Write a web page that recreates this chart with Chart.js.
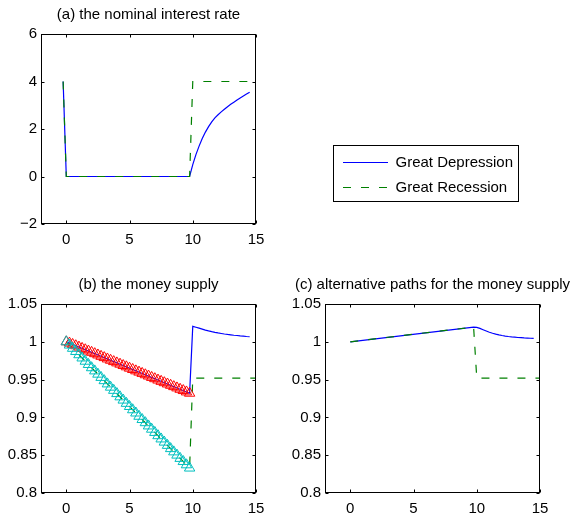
<!DOCTYPE html>
<html><head><meta charset="utf-8">
<script src="https://cdn.jsdelivr.net/npm/chart.js@4.4.0/dist/chart.umd.min.js"></script>
<style>
html,body{margin:0;padding:0;background:#fff;overflow:hidden;width:574px;height:521px;}
#wrap{position:relative;width:574px;height:521px;}
canvas{position:absolute;}
</style>
</head><body>
<div id="wrap">
<canvas id="ca" width="290" height="260" style="left:0;top:0;"></canvas>
<canvas id="cb" width="290" height="261" style="left:0;top:260px;"></canvas>
<canvas id="cc" width="290" height="261" style="left:284px;top:260px;"></canvas>
<canvas id="cl" width="230" height="160" style="left:320px;top:130px;"></canvas>
</div>
<script>
// ---------- data ----------
const titles = ['(a) the nominal interest rate', '(b) the money supply', '(c) alternative paths for the money supply'];
const legendLabels = ['Great Depression', 'Great Recession'];

const xTicks = [0, 5, 10, 15];
const xTickLabels = ['0', '5', '10', '15'];
const rateTicks = [-2, 0, 2, 4, 6];
const rateTickLabels = ['\u22122', '0', '2', '4', '6'];
const moneyTicks = [0.8, 0.85, 0.9, 0.95, 1, 1.05];
const moneyTickLabels = ['0.8', '0.85', '0.9', '0.95', '1', '1.05'];

// (a) nominal interest rate
const gdRateX = [-0.25, 0, 9.75, 10, 10.25, 10.5, 10.75, 11, 11.25, 11.5, 11.75, 12, 12.25, 12.5, 12.75, 13, 13.25, 13.5, 13.75, 14, 14.25, 14.5];
const gdRate  = [4, 0, 0, 0.5, 0.92, 1.28, 1.6, 1.87, 2.1, 2.3, 2.47, 2.6, 2.72, 2.83, 2.94, 3.04, 3.13, 3.22, 3.31, 3.39, 3.47, 3.55];
const grRateX = [-0.25, 0, 9.75, 10, 15];
const grRate  = [4, 0, 0, 4, 4];

// (b) money supply
const gdMoneyX = [0, 9.75, 10, 10.25, 10.5, 10.75, 11, 11.25, 11.5, 11.75, 12, 12.25, 12.5, 12.75, 13, 13.25, 13.5, 13.75, 14, 14.25, 14.5];
const gdMoney  = [1.0, 0.932, 1.0204, 1.0193, 1.018, 1.0167, 1.0155, 1.0144, 1.0134, 1.0125, 1.0117, 1.011, 1.0103, 1.0097, 1.0092, 1.0087, 1.0083, 1.0078, 1.0074, 1.007, 1.0067];
const grMoneyX = [0, 9.75, 10, 15];
const grMoney  = [1.0, 0.833, 0.952, 0.952];
const markerX = [0, 0.25, 0.5, 0.75, 1, 1.25, 1.5, 1.75, 2, 2.25, 2.5, 2.75, 3, 3.25, 3.5, 3.75, 4, 4.25, 4.5, 4.75, 5, 5.25, 5.5, 5.75, 6, 6.25, 6.5, 6.75, 7, 7.25, 7.5, 7.75, 8, 8.25, 8.5, 8.75, 9, 9.25, 9.5, 9.75];
const redMarkers = [1.0, 0.9983, 0.9965, 0.9948, 0.993, 0.9913, 0.9895, 0.9878, 0.9861, 0.9843, 0.9826, 0.9808, 0.9791, 0.9773, 0.9756, 0.9738, 0.9721, 0.9704, 0.9686, 0.9669, 0.9651, 0.9634, 0.9616, 0.9599, 0.9582, 0.9564, 0.9547, 0.9529, 0.9512, 0.9494, 0.9477, 0.9459, 0.9442, 0.9425, 0.9407, 0.939, 0.9372, 0.9355, 0.9337, 0.932];
const cyanMarkers = [1.0, 0.9957, 0.9914, 0.9872, 0.9829, 0.9786, 0.9743, 0.97, 0.9657, 0.9615, 0.9572, 0.9529, 0.9486, 0.9443, 0.94, 0.9358, 0.9315, 0.9272, 0.9229, 0.9186, 0.9144, 0.9101, 0.9058, 0.9015, 0.8972, 0.893, 0.8887, 0.8844, 0.8801, 0.8758, 0.8715, 0.8673, 0.863, 0.8587, 0.8544, 0.8501, 0.8458, 0.8416, 0.8373, 0.833];

// (c) alternative money paths
const gdAltX = [0, 9.75, 10, 10.25, 10.5, 10.75, 11, 11.25, 11.5, 11.75, 12, 12.25, 12.5, 12.75, 13, 13.25, 13.5, 13.75, 14, 14.25, 14.5];
const gdAlt  = [1.0, 1.0195, 1.019, 1.0177, 1.016, 1.0143, 1.0127, 1.0113, 1.0101, 1.0091, 1.0083, 1.0076, 1.007, 1.0065, 1.0061, 1.0057, 1.0054, 1.0051, 1.0049, 1.0047, 1.0045];
const grAltX = [0, 9.75, 10, 15];
const grAlt  = [1.0, 1.0195, 0.952, 0.952];

// ---------- styles ----------
const BLUE = '#0000ff', GREEN = '#008000', RED = '#ff0000', CYAN = '#00bfbf';
const DASH = [8, 10];
const LINE_W = 1.2;
Chart.defaults.font.family = '"Liberation Sans", Arial, Helvetica, sans-serif';
Chart.defaults.font.size = 15;
Chart.defaults.color = '#000';

const pts = (xs, ys) => xs.map((x, i) => ({x: x, y: ys[i]}));

const frame = {
  id: 'frame',
  afterDatasetsDraw(chart) {
    const {ctx, chartArea: a, scales} = chart;
    const L = Math.round(a.left) + 0.5, R = Math.round(a.right) - 0.5;
    const T = Math.round(a.top) + 0.5, B = Math.round(a.bottom) - 0.5;
    const tl = 3;
    ctx.save();
    ctx.strokeStyle = '#000'; ctx.lineWidth = 1; ctx.setLineDash([]);
    ctx.strokeRect(L, T, R - L, B - T);
    ctx.beginPath();
    scales.x.ticks.forEach(t => {
      const px = Math.round(scales.x.getPixelForValue(t.value)) + 0.5;
      ctx.moveTo(px, B); ctx.lineTo(px, B - tl);
      ctx.moveTo(px, T); ctx.lineTo(px, T + tl);
    });
    scales.y.ticks.forEach(t => {
      const py = Math.round(scales.y.getPixelForValue(t.value)) + 0.5;
      ctx.moveTo(L, py); ctx.lineTo(L + tl, py);
      ctx.moveTo(R, py); ctx.lineTo(R - tl, py);
    });
    ctx.stroke();
    ctx.restore();
  }
};

function lineDs(label, xs, ys, color, dash, order) {
  return {label: label, data: pts(xs, ys), showLine: true, borderColor: color, backgroundColor: color,
          borderWidth: LINE_W, borderDash: dash || [], pointRadius: 0, pointHoverRadius: 0, order: order};
}
function markerDs(label, xs, ys, color, order) {
  return {label: label, data: pts(xs, ys), showLine: false, pointStyle: 'triangle', pointRadius: 6,
          pointBorderColor: color, pointBackgroundColor: 'rgba(0,0,0,0)', pointBorderWidth: 1,
          pointHoverRadius: 6, order: order};
}

function panelOptions(title, yMin, yMax, yTicks, yLabels, padTop, padBottom) {
  return {
    responsive: false, animation: false, events: [],
    layout: {padding: {left: 7, right: 0, top: 0, bottom: padBottom}},
    plugins: {
      legend: {display: false}, tooltip: {enabled: false},
      title: {display: true, text: title, color: '#000', fullSize: true,
              font: {size: 15, weight: 'normal'}, padding: {top: padTop, bottom: 10}}
    },
    scales: {
      x: {type: 'linear', min: -2, max: 15,
          afterBuildTicks: s => { s.ticks = xTicks.map(v => ({value: v})); },
          afterFit: s => { s.height = 28; s.paddingLeft = 0; s.paddingRight = 0; },
          ticks: {autoSkip: false, maxRotation: 0, padding: 7, color: '#000',
                  callback: v => xTickLabels[xTicks.indexOf(v)]},
          grid: {display: false, drawTicks: false}, border: {display: false}},
      y: {type: 'linear', min: yMin, max: yMax, position: 'left',
          afterBuildTicks: s => { s.ticks = yTicks.map(v => ({value: v})); },
          afterFit: s => { s.width = 34; s.paddingTop = 0; s.paddingBottom = 0; },
          ticks: {autoSkip: false, padding: 4, color: '#000',
                  callback: v => yLabels[yTicks.findIndex(t => Math.abs(t - v) < 1e-9)]},
          grid: {display: false, drawTicks: false}, border: {display: false}},
      yr: {type: 'linear', position: 'right', display: true,
           afterFit: s => { s.width = 34; s.paddingTop = 0; s.paddingBottom = 0; },
           ticks: {display: false}, grid: {display: false, drawTicks: false}, border: {display: false}}
    }
  };
}

// (a)
new Chart(document.getElementById('ca'), {
  type: 'scatter',
  data: {datasets: [
    lineDs(legendLabels[0], gdRateX, gdRate, BLUE, null, 2),
    lineDs(legendLabels[1], grRateX, grRate, GREEN, DASH, 1)
  ]},
  options: panelOptions(titles[0], -2, 6, rateTicks, rateTickLabels, 6, 8),
  plugins: [frame]
});

// (b)
new Chart(document.getElementById('cb'), {
  type: 'scatter',
  data: {datasets: [
    lineDs(legendLabels[0], gdMoneyX, gdMoney, BLUE, null, 3),
    lineDs(legendLabels[1], grMoneyX, grMoney, GREEN, DASH, 2),
    markerDs('Great Depression path', markerX, redMarkers, RED, 1),
    markerDs('Great Recession path', markerX, cyanMarkers, CYAN, 0)
  ]},
  options: panelOptions(titles[1], 0.8, 1.05, moneyTicks, moneyTickLabels, 16, 0),
  plugins: [frame]
});

// (c)
new Chart(document.getElementById('cc'), {
  type: 'scatter',
  data: {datasets: [
    lineDs(legendLabels[0], gdAltX, gdAlt, BLUE, null, 2),
    lineDs(legendLabels[1], grAltX, grAlt, GREEN, DASH, 1)
  ]},
  options: panelOptions(titles[2], 0.8, 1.05, moneyTicks, moneyTickLabels, 16, 0),
  plugins: [frame]
});

// legend
const legendBox = {
  id: 'legendBox',
  afterDraw(chart) {
    const lg = chart.legend, ctx = chart.ctx;
    ctx.save();
    ctx.strokeStyle = '#000'; ctx.lineWidth = 1; ctx.setLineDash([]);
    ctx.strokeRect(Math.round(lg.left) + 0.5, Math.round(lg.top) + 0.5, 185, 56);
    ctx.restore();
  }
};
new Chart(document.getElementById('cl'), {
  type: 'scatter',
  data: {datasets: [
    {label: legendLabels[0], data: [], borderColor: BLUE, backgroundColor: BLUE, borderWidth: LINE_W, borderDash: []},
    {label: legendLabels[1], data: [], borderColor: GREEN, backgroundColor: GREEN, borderWidth: LINE_W, borderDash: DASH}
  ]},
  options: {
    responsive: false, animation: false, events: [],
    layout: {padding: {left: 13, top: 15, right: 0, bottom: 0}},
    scales: {x: {display: false}, y: {display: false}},
    plugins: {
      tooltip: {enabled: false},
      legend: {display: true, position: 'top', align: 'start', maxHeight: 120,
        labels: {usePointStyle: true, pointStyle: 'line', pointStyleWidth: 45, padding: 10, color: '#000',
          font: {size: 15},
          generateLabels: (chart) => chart.data.datasets.map((ds, i) => ({
            text: ds.label, fillStyle: ds.borderColor, strokeStyle: ds.borderColor,
            lineWidth: ds.borderWidth, lineDash: ds.borderDash, pointStyle: 'line',
            hidden: false, datasetIndex: i, fontColor: '#000'
          }))
        }
      }
    }
  },
  plugins: [legendBox]
});
</script>
</body></html>
